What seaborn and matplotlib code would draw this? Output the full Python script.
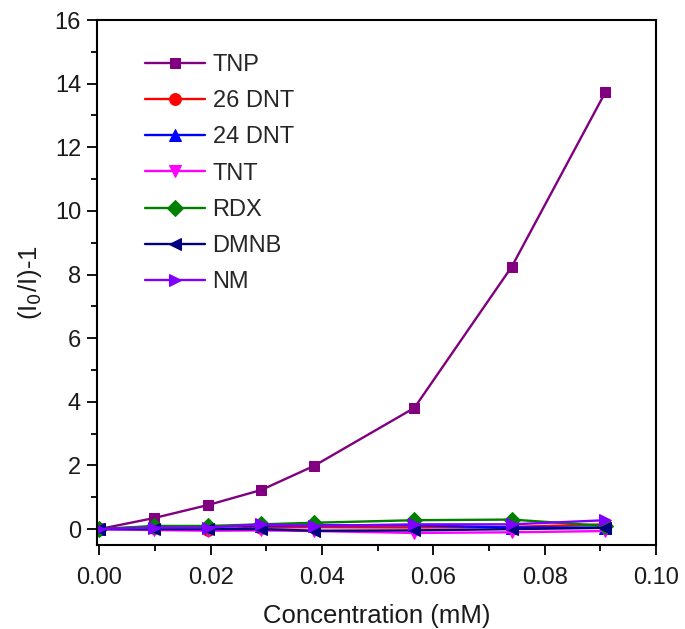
import matplotlib
matplotlib.use("Agg")
import matplotlib.pyplot as plt
import seaborn as sns
import pandas as pd
from matplotlib.ticker import MultipleLocator, FormatStrFormatter

sns.set_theme(style="ticks")
plt.rcParams["font.family"] = ["Liberation Sans", "DejaVu Sans"]

# Quencher concentration (mM)
conc = [0.0, 0.0099, 0.0196, 0.0291, 0.0385, 0.0566, 0.0741, 0.0909]

# Stern-Volmer response (I0/I)-1 for each analyte
tnp = [0.0, 0.35, 0.76, 1.23, 1.98, 3.81, 8.25, 13.73]
dnt26 = [0.0, 0.02, -0.02, 0.05, 0.06, 0.05, 0.07, 0.15]
dnt24 = [0.0, 0.08, 0.08, 0.10, 0.12, 0.12, 0.05, 0.05]
tnt = [0.0, -0.03, -0.05, -0.04, -0.06, -0.12, -0.10, -0.06]
rdx = [0.0, 0.10, 0.10, 0.15, 0.20, 0.28, 0.30, 0.10]
dmnb = [0.0, 0.0, 0.0, 0.0, -0.05, -0.04, 0.0, 0.04]
nm = [0.0, 0.05, 0.05, 0.15, 0.10, 0.15, 0.15, 0.28]

names = ["TNP", "26 DNT", "24 DNT", "TNT", "RDX", "DMNB", "NM"]
series = [tnp, dnt26, dnt24, tnt, rdx, dmnb, nm]
colors = ["#800080", "#ff0000", "#0000ff", "#ff00ff", "#008000", "#000080", "#8000ff"]
markers = ["s", "o", "^", "v", "D", "<", ">"]
msizes = [7.5, 8.5, 9, 9, 8, 9, 9]

df = pd.DataFrame({
    "conc": conc * len(names),
    "resp": sum(series, []),
    "analyte": [n for n in names for _ in conc],
})

fig = plt.figure(figsize=(6.85, 6.29), dpi=100)
ax = fig.add_axes([0.1416, 0.1335, 0.8161, 0.8347])

for name, col, mk, ms in zip(names, colors, markers, msizes):
    sub = df[df["analyte"] == name]
    sns.lineplot(data=sub, x="conc", y="resp", ax=ax, color=col, marker=mk,
                 markersize=ms, markeredgecolor=col, linewidth=1.7,
                 label=name, sort=False)

ax.set_xlim(-0.0004, 0.1)
ax.set_ylim(-0.5, 16)
ax.xaxis.set_major_locator(MultipleLocator(0.02))
ax.xaxis.set_minor_locator(MultipleLocator(0.01))
ax.yaxis.set_major_locator(MultipleLocator(2))
ax.yaxis.set_minor_locator(MultipleLocator(1))
ax.xaxis.set_major_formatter(FormatStrFormatter("%.2f"))

ax.tick_params(which="major", direction="out", length=7.5, width=1.3,
               labelsize=17, color="black", labelcolor="#1a1a1a")
ax.tick_params(which="minor", direction="out", length=4.5, width=1.3, color="black")
ax.tick_params(axis="x", which="major", pad=8)
ax.tick_params(axis="y", which="major", pad=4)
ax.tick_params(top=False, right=False)

for sp in ax.spines.values():
    sp.set_linewidth(1.5)
    sp.set_color("black")

ax.set_xlabel("Concentration (mM)", fontsize=18.5, color="#1a1a1a", labelpad=11)
ax.set_ylabel("(I$_0$/I)-1", fontsize=18.5, color="#1a1a1a", labelpad=8)

leg = ax.legend(loc="upper left", bbox_to_anchor=(0.061, 0.962), frameon=False,
                fontsize=17, handlelength=2.55, handletextpad=0.3,
                labelspacing=0.6, borderaxespad=0.2)

fig.savefig("out.png", dpi=100, facecolor="white")
